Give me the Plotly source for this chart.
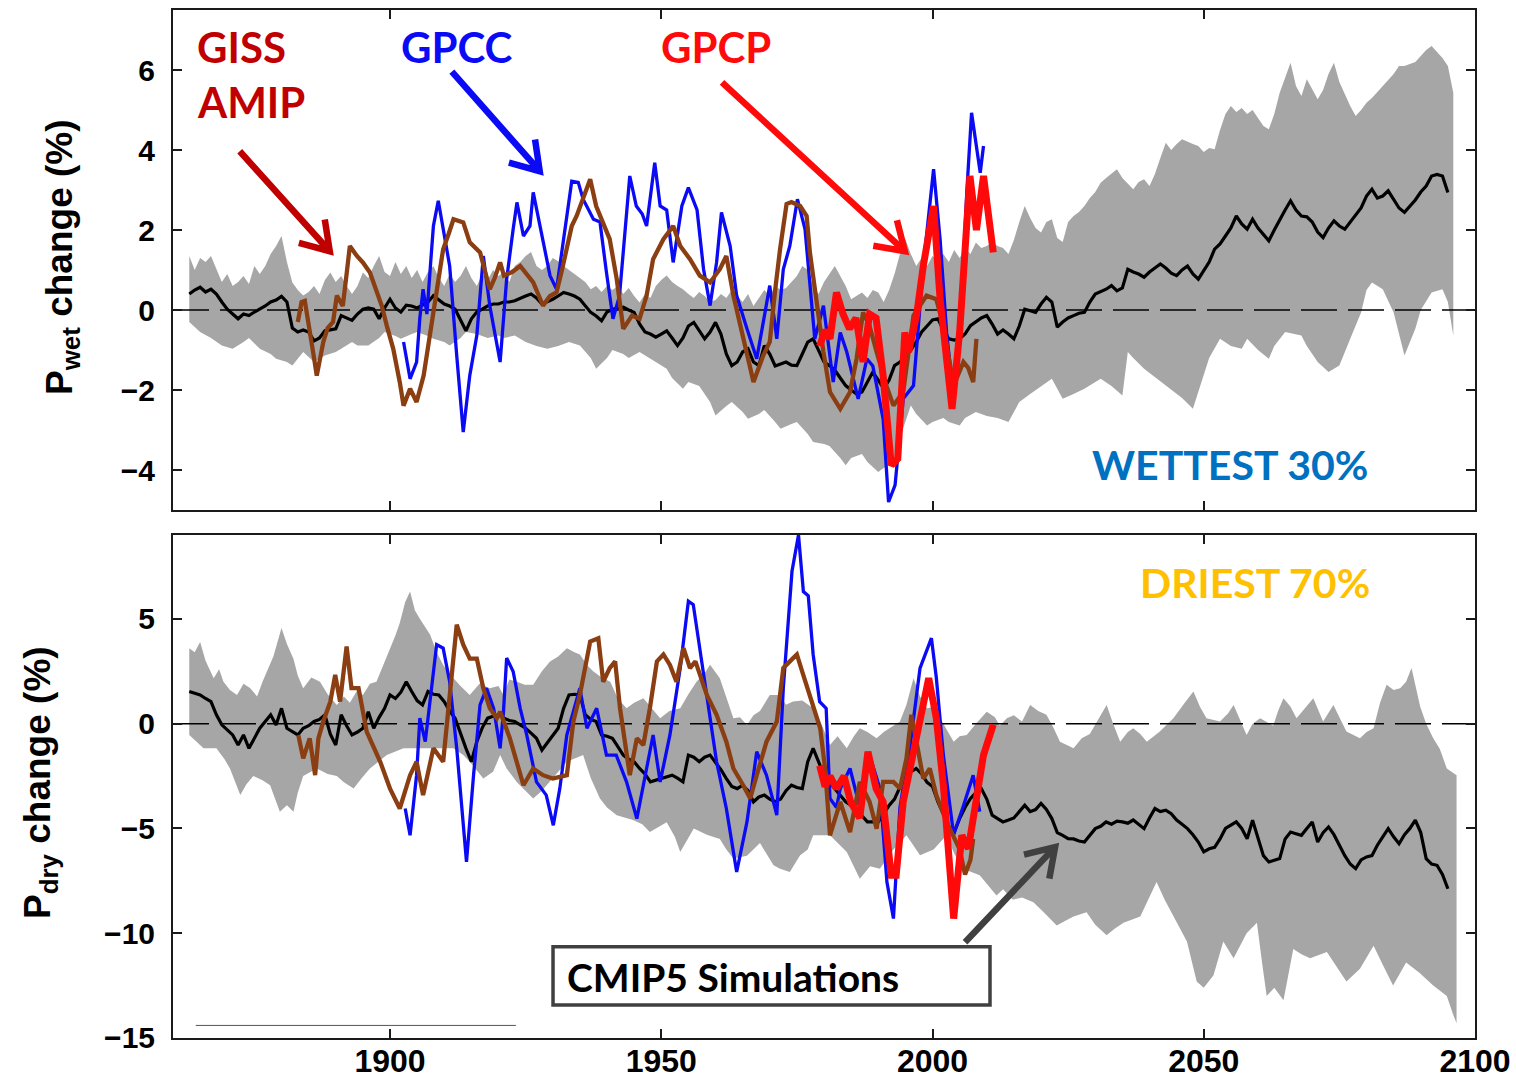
import math
import numpy as np
import plotly.graph_objects as go

# ---------------------------------------------------------------- axes
X_RANGE = [1860, 2100]
X_TICKS = [1900, 1950, 2000, 2050, 2100]
WET_RANGE = [-5, 7.5]
WET_TICKS = [-4, -2, 0, 2, 4, 6]
DRY_RANGE = [-15, 9]
DRY_TICKS = [-15, -10, -5, 0, 5]

# ---------------------------------------------------------------- CMIP5 ensemble, wettest 30% (annual from 1863)
CMIP_START = 1863
WET_MEAN = (
    [0.40, 0.50, 0.57, 0.45, 0.52, 0.40, 0.20]
    + [0.02, -0.10, -0.22, -0.10, -0.14, -0.05, 0.02, 0.10, 0.20, 0.25]
    + [0.34, 0.20, -0.45, -0.55, -0.50, -0.55, -0.77, -0.70, -0.52, -0.50]
    + [-0.47, -0.14, -0.20, -0.26, -0.10, 0.02, 0.05, 0.02, -0.22, 0.05]
    + [0.27, 0.05, -0.05, 0.12, 0.10, 0.05, 0.12, 0.20, 0.36, 0.25]
    + [0.15, 0.10, 0.02, -0.25, -0.52, -0.22, -0.05, 0.02, 0.10, 0.15]
    + [0.15, 0.20, 0.20, 0.23, 0.30, 0.35, 0.40, 0.30, 0.15, 0.20]
    + [0.27, 0.35, 0.44, 0.40, 0.35, 0.27, 0.10, -0.06, -0.15, -0.27]
    + [-0.05, 0.02, 0.05, 0.07, 0.00, -0.06, -0.35, -0.55, -0.60, -0.68]
    + [-0.60, -0.52, -0.70, -0.89, -0.70, -0.40, -0.31, -0.50, -0.72, -0.55]
    + [-0.31, -0.60, -1.10, -1.39, -1.30, -1.05, -0.97, -1.30, -1.39, -0.89]
    + [-1.10, -1.40, -1.35, -1.30, -1.38, -1.39, -1.10, -0.80, -0.72, -1.00]
    + [-1.30, -1.39, -1.50, -1.70, -1.89, -2.00, -2.10, -2.05, -1.80, -1.55]
    + [-1.75, -1.97, -1.75, -1.39, -1.30, -1.15, -1.00, -0.80, -0.55, -0.40]
    + [-0.25, -0.22, -0.50, -0.72, -0.75, -0.72, -0.60, -0.39, -0.30, -0.20]
    + [-0.14, -0.35, -0.60, -0.50, -0.60, -0.72, -0.40, 0.02, -0.02, -0.06]
    + [0.15, 0.32, 0.20, -0.43, -0.30, -0.20, -0.14, -0.08, -0.06, 0.20]
    + [0.40, 0.45, 0.52, 0.61, 0.48, 0.55, 1.02, 0.95, 0.90, 0.82]
    + [0.95, 1.05, 1.15, 1.05, 0.92, 0.86, 1.00, 1.10, 0.90, 0.77]
    + [1.00, 1.20, 1.52, 1.65, 1.85, 2.05, 2.35, 2.15, 2.02, 2.27]
    + [2.05, 1.90, 1.73, 2.00, 2.27, 2.50, 2.73, 2.50, 2.35, 2.33]
    + [2.20, 1.95, 1.81, 2.05, 2.23, 2.10, 2.02, 2.20, 2.35, 2.55]
    + [2.85, 3.02, 2.80, 2.85, 2.98, 2.75, 2.55, 2.44, 2.60, 2.75]
    + [2.95, 3.10, 3.35, 3.39, 3.35, 2.94]
)
WET_UPPER = (
    [1.35, 1.00, 1.30, 1.20, 1.35, 1.00, 0.70]
    + [0.90, 0.60, 0.70, 0.85, 0.65, 1.10, 0.90, 1.10, 1.40, 1.60]
    + [1.85, 1.20, 0.69, 0.50, 0.36, 0.45, 0.60, 0.40, 0.75, 0.94]
    + [0.70, 0.85, 0.60, 0.40, 0.60, 0.94, 0.80, 1.10, 1.35, 0.95]
    + [0.85, 1.20, 0.90, 1.10, 0.80, 1.00, 0.70, 0.95, 1.10, 0.80]
    + [0.60, 0.90, 0.70, 0.85, 1.10, 0.80, 0.60, 0.90, 0.75, 1.00]
    + [0.85, 0.95, 0.70, 1.10, 1.20, 1.35, 1.45, 1.10, 1.00, 1.10]
    + [1.30, 1.22, 1.10, 1.00, 0.92, 0.80, 0.70, 0.52, 0.60, 0.45]
    + [0.60, 0.50, 0.60, 0.40, 0.55, 0.35, 0.19, 0.40, 0.30, 0.60]
    + [0.75, 0.86, 0.70, 0.60, 0.52, 0.40, 0.30, 0.45, 0.35, 0.20]
    + [0.25, 0.40, 0.30, 0.50, 0.35, 0.20, 0.40, 0.10, 0.30, 0.50]
    + [0.35, 0.60, 0.50, 0.55, 0.70, 0.85, 1.10, 1.00, 0.60, 0.40]
    + [0.70, 0.90, 1.10, 0.85, 0.60, 0.27, 0.35, 0.44, 0.30, 0.50]
    + [0.44, 0.20, 0.50, 0.90, 1.40, 1.77, 1.40, 1.10, 1.30, 1.10]
    + [1.35, 1.25, 1.40, 1.20, 1.50, 1.30, 1.55, 1.40, 1.69, 1.55]
    + [1.60, 1.69, 1.60, 1.55, 1.40, 1.75, 2.20, 2.60, 2.30, 2.05]
    + [1.94, 2.20, 2.27, 1.80, 1.70, 2.20, 2.35, 2.45, 2.60, 2.80]
    + [2.95, 3.18, 3.30, 3.40, 3.52, 3.30, 3.15, 3.02, 3.20, 3.27]
    + [3.10, 3.40, 3.80, 4.18, 4.00, 4.15, 4.27, 4.20, 4.15, 4.10]
    + [3.95, 4.05, 4.02, 4.50, 4.90, 5.10, 4.95, 5.05, 4.90, 5.00]
    + [4.80, 4.60, 4.52, 4.90, 5.43, 5.80, 6.18, 5.60, 5.35, 5.77]
    + [5.50, 5.27, 5.50, 5.90, 6.18, 5.70, 5.40, 5.10, 4.85, 5.00]
    + [5.18, 5.30, 5.45, 5.60, 5.75, 5.90, 6.10, 6.10, 6.15, 6.20]
    + [6.35, 6.50, 6.60, 6.45, 6.30, 6.10, 5.43]
)
WET_LOWER = [
    (1863, -0.30), (1865, -0.55), (1867, -0.70), (1869, -0.89), (1871, -0.97),
    (1873, -0.80), (1874, -0.70), (1876, -0.97), (1878, -1.10), (1879, -1.22),
    (1881, -1.30), (1882, -1.39), (1884, -1.05), (1886, -1.30), (1888, -1.14),
    (1890, -1.05), (1891, -0.97), (1893, -0.80), (1894, -0.89), (1896, -0.89),
    (1898, -0.70), (1899, -0.55), (1901, -0.65), (1902, -0.72), (1904, -0.60),
    (1905, -0.55), (1907, -0.65), (1908, -0.72), (1910, -0.80), (1911, -0.89),
    (1913, -0.70), (1914, -0.55), (1916, -0.60), (1918, -0.70), (1920, -0.64),
    (1921, -0.70), (1923, -0.64), (1925, -0.80), (1927, -0.90), (1929, -0.97),
    (1931, -0.90), (1933, -0.80), (1935, -0.89), (1937, -1.20), (1938, -1.47),
    (1940, -1.20), (1941, -1.00), (1943, -1.10), (1944, -1.20), (1946, -1.05),
    (1947, -1.14), (1949, -1.30), (1951, -1.47), (1952, -1.70), (1954, -1.97),
    (1955, -1.80), (1957, -1.90), (1959, -2.30), (1960, -2.64), (1962, -2.40),
    (1963, -2.30), (1965, -2.55), (1966, -2.72), (1968, -2.60), (1969, -2.50),
    (1971, -2.80), (1972, -2.97), (1974, -2.85), (1975, -2.80), (1977, -3.10),
    (1978, -3.30), (1980, -3.35), (1981, -3.40), (1983, -3.70), (1984, -3.88),
    (1985, -3.70), (1987, -3.60), (1988, -3.80), (1990, -4.05), (1991, -3.95),
    (1993, -3.80), (1994, -3.20), (1996, -2.39), (1997, -2.60), (1999, -2.89),
    (2000, -2.80), (2002, -2.70), (2003, -2.80), (2005, -2.89), (2006, -2.70),
    (2008, -2.55), (2010, -2.65), (2012, -2.70), (2014, -2.80), (2016, -2.30),
    (2018, -2.10), (2020, -1.90), (2022, -1.72), (2024, -2.22), (2026, -2.10),
    (2028, -1.97), (2031, -1.72), (2033, -1.90), (2035, -2.14), (2036, -1.05),
    (2037, -1.20), (2039, -1.47), (2041, -1.70), (2043, -1.89), (2046, -2.20),
    (2048, -2.47), (2050, -1.64), (2051, -1.20), (2053, -0.72), (2055, -0.90),
    (2057, -0.97), (2058, -0.72), (2060, -1.00), (2062, -1.22), (2063, -0.90),
    (2065, -0.55), (2068, -0.64), (2069, -0.90), (2071, -1.30), (2073, -1.55),
    (2075, -1.39), (2077, -0.72), (2079, -0.06), (2080, 0.50), (2081, 0.69),
    (2083, 0.52), (2085, -0.06), (2086, -0.60), (2087, -1.14), (2089, -0.47),
    (2090, 0.00), (2092, 0.44), (2094, 0.52), (2095, 0.20), (2096, -0.64),
]

# ---------------------------------------------------------------- observations, wettest 30%
WET_GISS = [
    (1883.0, -0.30), (1883.7, 0.20), (1884.3, 0.23), (1885.0, -0.30), (1886.0, -1.20),
    (1886.5, -1.64), (1887.2, -1.10), (1887.7, -0.80), (1888.5, -0.45), (1889.5, -0.30),
    (1890.2, 0.36), (1891.3, 0.10), (1892.0, 0.90), (1892.6, 1.60), (1893.9, 1.35),
    (1895.0, 1.19), (1896.3, 0.94), (1897.5, 0.52), (1898.5, 0.10), (1899.4, -0.39),
    (1900.6, -0.97), (1901.8, -1.80), (1902.5, -2.39), (1903.7, -1.97), (1904.9, -2.30),
    (1906.2, -1.64), (1907.4, -0.64), (1908.6, 0.52), (1909.8, 1.52), (1910.8, 1.90),
    (1911.7, 2.27), (1913.5, 2.19), (1914.7, 1.69), (1916.6, 1.44), (1917.5, 1.00),
    (1918.4, 0.52), (1919.3, 0.80), (1920.3, 1.19), (1921.0, 0.86), (1922.5, 0.95),
    (1924.0, 1.10), (1925.2, 0.90), (1926.4, 0.69), (1927.3, 0.40), (1928.2, 0.11),
    (1929.5, 0.35), (1930.7, 0.44), (1931.7, 1.00), (1932.6, 1.60), (1933.5, 2.10),
    (1934.4, 2.35), (1935.7, 2.80), (1936.9, 3.27), (1938.0, 2.60), (1939.3, 2.19),
    (1940.5, 1.77), (1941.8, 0.77), (1943.0, -0.47), (1944.6, -0.14), (1946.0, -0.22),
    (1947.3, 0.36), (1948.5, 1.27), (1950.4, 1.77), (1952.2, 2.10), (1953.5, 1.60),
    (1955.3, 1.27), (1957.1, 0.86), (1959.0, 0.69), (1960.8, 1.02), (1962.0, 1.35),
    (1963.3, 0.36), (1965.1, -0.64), (1967.0, -1.80), (1968.8, -1.14), (1970.0, -0.80),
    (1971.0, 0.50), (1971.9, 1.52), (1973.1, 2.65), (1974.0, 2.70), (1975.6, 2.60),
    (1976.8, 2.35), (1977.4, 1.44), (1978.7, 0.11), (1979.9, -1.05), (1981.1, -2.05),
    (1983.0, -2.47), (1984.8, -2.05), (1986.0, -1.22), (1987.2, -0.06), (1988.4, -0.40),
    (1989.7, -1.05), (1991.5, -1.89), (1992.8, -2.39), (1994.6, -2.05), (1996.5, -0.14),
    (1998.9, 0.36), (2000.7, 0.27), (2002.0, -0.39), (2003.9, -1.89), (2005.7, -1.30),
    (2006.6, -1.45), (2007.5, -1.80), (2008.1, -0.72),
]
WET_GPCC = [
    (1902.5, -0.80), (1903.7, -1.72), (1904.9, -1.30), (1905.5, -0.20), (1906.1, 0.52),
    (1906.8, -0.10), (1907.5, 1.20), (1908.0, 2.10), (1908.9, 2.73), (1909.8, 2.02),
    (1911.0, 1.10), (1912.3, -1.14), (1913.5, -3.05), (1914.7, -1.64), (1916.0, -0.64),
    (1917.2, 1.35), (1918.4, 0.10), (1920.3, -1.30), (1921.5, 0.77), (1922.7, 2.02),
    (1923.4, 2.69), (1924.6, 1.85), (1925.8, 2.10), (1926.4, 2.94), (1927.6, 2.10),
    (1928.2, 1.77), (1929.5, 0.86), (1930.7, 0.52), (1932.6, 2.35), (1933.5, 3.22),
    (1934.7, 3.19), (1935.6, 2.77), (1937.5, 2.27), (1938.7, 2.20), (1939.9, 0.94),
    (1941.1, -0.22), (1942.3, 0.35), (1943.6, 2.27), (1944.2, 3.35), (1945.4, 2.60),
    (1946.5, 2.40), (1947.3, 2.10), (1948.8, 3.68), (1949.8, 2.60), (1951.0, 2.50),
    (1952.2, 1.19), (1953.8, 2.60), (1955.0, 3.06), (1956.6, 2.50), (1957.8, 1.02),
    (1959.0, 0.11), (1960.2, 1.19), (1961.1, 2.44), (1962.7, 1.60), (1963.9, 0.36),
    (1965.8, -0.47), (1967.6, -1.22), (1968.8, -0.31), (1970.0, 0.61), (1971.3, -0.72),
    (1972.5, 1.02), (1973.7, 1.60), (1975.1, 2.77), (1976.5, 2.02), (1977.4, 0.60),
    (1978.3, -0.72), (1979.9, 0.11), (1981.7, -1.80), (1983.0, -0.56), (1984.2, -1.05),
    (1986.3, -2.22), (1987.9, -1.22), (1989.0, -1.40), (1990.9, -2.72), (1991.9, -4.80),
    (1993.1, -4.38), (1994.6, -2.22), (1996.5, -1.89), (1998.3, 1.10), (2000.2, 3.52),
    (2001.4, 1.77), (2002.6, -0.56), (2003.9, -2.22), (2005.4, 0.27), (2006.3, 2.90),
    (2007.2, 4.93), (2008.8, 3.43), (2009.4, 4.10),
]
WET_GPCP = [
    (1979.2, -0.90), (1980.2, -0.50), (1981.1, -0.72), (1982.3, 0.44), (1983.5, -0.10),
    (1984.7, -0.47), (1985.9, -0.20), (1987.2, -1.30), (1988.4, -0.10), (1989.6, -0.20),
    (1990.9, -1.64), (1992.4, -3.88), (1993.6, -3.72), (1994.9, -0.56), (1995.6, -1.05),
    (1997.1, -0.10), (1998.3, 1.10), (2000.2, 2.60), (2001.4, 0.27), (2002.6, -1.20),
    (2003.6, -2.47), (2005.0, -0.56), (2006.9, 3.35), (2008.1, 2.00), (2009.4, 3.35),
    (2011.2, 1.44),
]

# ---------------------------------------------------------------- CMIP5 ensemble, driest 70% (annual from 1863)
DRY_MEAN = (
    [1.53, 1.45, 1.37, 1.20, 1.05, 0.42, -0.06]
    + [-0.30, -0.54, -1.02, -0.54, -1.18, -0.70, -0.22, 0.10, 0.42, -0.06]
    + [0.73, -0.22, -0.40, -0.54, -0.22, -0.10, 0.10, 0.20, 0.42, -0.50]
    + [-1.02, 0.42, -0.10, -0.54, -0.40, -0.22, 0.57, -0.22, 0.30, 0.73]
    + [1.37, 1.20, 1.50, 2.00, 1.53, 1.10, 0.89, 1.53, 1.40, 1.37]
    + [1.05, 0.60, 0.26, -0.50, -1.18, -1.82, -0.86, -0.20, 0.26, 0.35]
    + [0.42, 0.26, 0.15, 0.10, -0.05, -0.22, -0.45, -0.70, -1.26, -0.90]
    + [-0.60, -0.22, 0.73, 1.37, 1.40, 1.37, 0.42, 0.20, 0.10, -0.54]
    + [-0.60, -0.70, -1.10, -1.50, -1.70, -1.82, -2.14, -2.40, -2.78, -2.70]
    + [-2.62, -2.55, -2.46, -2.60, -2.78, -1.50, -1.60, -1.82, -1.60, -1.50]
    + [-1.82, -2.20, -2.62, -3.00, -3.10, -2.94, -3.20, -3.73, -3.50, -3.41]
    + [-3.60, -3.73, -3.60, -3.20, -2.94, -3.05, -3.10, -1.82, -1.18, -1.80]
    + [-2.46, -2.80, -3.10, -3.40, -3.73, -3.90, -4.05, -4.40, -4.69, -4.69]
    + [-4.69, -4.30, -3.90, -3.60, -3.00, -2.46, -2.30, -2.14, -2.40, -2.80]
    + [-3.00, -3.73, -4.30, -5.00, -5.17, -4.53, -4.00, -3.57, -3.30, -3.10]
    + [-3.60, -4.37, -4.53, -4.69, -4.60, -4.50, -4.20, -3.89, -4.20, -4.10]
    + [-3.81, -4.10, -4.53, -5.20, -5.33, -5.49, -5.50, -5.60, -5.65, -5.30]
    + [-5.01, -4.90, -4.69, -4.80, -4.65, -4.69, -4.75, -4.60, -4.80, -5.01]
    + [-4.50, -4.05, -4.20, -4.13, -4.30, -4.60, -4.80, -5.01, -5.30, -5.65]
    + [-6.12, -5.97, -5.90, -5.50, -5.00, -4.85, -4.69, -5.00, -5.49, -4.61]
    + [-5.50, -6.30, -6.60, -6.50, -6.44, -5.50, -5.17, -5.25, -5.33, -5.00]
    + [-4.69, -5.65, -5.20, -4.93, -5.30, -5.80, -6.30, -6.70, -6.92, -6.50]
    + [-6.36, -6.30, -5.80, -5.40, -5.01, -5.40, -5.73, -5.30, -5.00, -4.61]
    + [-5.20, -6.44, -6.70, -6.76, -7.20, -7.88]
)
DRY_UPPER = [
    (1863, 3.60), (1864, 3.40), (1865, 3.90), (1866, 3.00), (1867.5, 2.17),
    (1868.5, 2.60), (1869.3, 2.00), (1870.5, 1.60), (1871.8, 1.37), (1873, 1.90),
    (1874.2, 1.70), (1875.5, 1.30), (1876.5, 2.00), (1877.3, 2.49), (1878.5, 3.20),
    (1880, 4.56), (1881, 3.80), (1882.2, 3.10), (1883, 2.30), (1884, 1.69),
    (1885.5, 2.20), (1887.1, 2.00), (1888.5, 1.40), (1890.2, 0.89), (1891.5, 1.30),
    (1892.6, 1.00), (1894, 1.60), (1895, 1.37), (1896.3, 1.90), (1897.5, 2.00),
    (1898.8, 2.80), (1900, 3.60), (1901, 4.20), (1901.8, 4.80), (1902.8, 5.80),
    (1903.7, 6.30), (1904.6, 5.40), (1905.5, 5.00), (1906.5, 4.60), (1907.4, 4.24),
    (1908.6, 3.40), (1909.8, 2.80), (1911.7, 2.17), (1913, 1.80), (1914.7, 1.37),
    (1916.5, 1.90), (1918.4, 1.69), (1920, 1.80), (1920.9, 1.37), (1922, 2.10),
    (1923.4, 2.00), (1924.8, 1.85), (1926.4, 1.85), (1928, 2.50), (1929.5, 2.97),
    (1931, 3.20), (1932.6, 3.60), (1934, 3.40), (1935, 3.30), (1936.3, 2.80),
    (1937.5, 2.49), (1939, 2.20), (1940.6, 2.00), (1942, 1.20), (1943.6, 0.73),
    (1945, 1.00), (1946.7, 1.21), (1948.3, 0.70), (1949.8, 0.26), (1951.5, 0.60),
    (1953.5, 0.73), (1955, 1.40), (1956.5, 2.00), (1958, 2.40), (1959, 2.81),
    (1960.8, 2.17), (1962, 1.20), (1963.3, 0.26), (1964.5, 0.30), (1965.8, -0.06),
    (1967, 0.40), (1968.2, 0.60), (1970, 1.37), (1971.9, 1.37), (1973, 0.90),
    (1974.3, 1.05), (1976, 1.10), (1978, 0.73), (1979.5, 0.00), (1981.1, -1.02),
    (1982.5, -0.60), (1984.2, -1.18), (1985.5, -0.60), (1986.6, -0.22), (1988, -0.40),
    (1989.7, -0.70), (1991, -0.40), (1992.2, -0.20), (1994, 0.10), (1995.2, 0.90),
    (1996.5, 2.17), (1997.7, 1.30), (1999, 0.73), (2000.2, 0.80), (2001.4, 0.26),
    (2002.6, -0.30), (2003.9, -0.86), (2005, -0.60), (2006.3, -0.54), (2008, 0.00),
    (2010, 0.57), (2011.5, 0.30), (2012.4, -0.10), (2013.7, 0.26), (2015, 0.40),
    (2016.5, 0.10), (2018, 0.89), (2019.5, 0.60), (2021, 0.42), (2022.3, -0.20),
    (2023.5, -0.86), (2026, -1.18), (2027.5, -0.70), (2029, -0.50), (2030.5, 0.20),
    (2032.1, 0.89), (2033.3, 0.00), (2034.6, -0.86), (2036, -0.40), (2037, -0.22),
    (2038.3, -0.50), (2039.5, -0.86), (2041.9, -0.38), (2043, -0.10), (2044.4, 0.26),
    (2046.5, 1.00), (2048.1, 1.53), (2049.3, 0.80), (2050.5, 0.26), (2053, 0.10),
    (2054.5, 0.50), (2055.5, 0.89), (2056.7, 0.20), (2057.9, -0.54), (2059, 0.00),
    (2060.4, 0.26), (2062.8, -0.10), (2063.7, 0.60), (2064.7, 1.21), (2066, 0.80),
    (2067.1, 0.26), (2068.5, 0.70), (2070.2, 1.21), (2072, 0.10), (2073.9, 0.89),
    (2075, 0.30), (2076.3, -0.38), (2078.8, -0.70), (2080, -0.40), (2081.3, -0.22),
    (2082.5, 1.00), (2083.7, 1.85), (2085, 1.60), (2086.2, 1.69), (2087.3, 2.00),
    (2088.3, 2.65), (2089, 1.90), (2089.9, 0.80), (2091, 0.00), (2092.3, -0.70),
    (2093.5, -1.20), (2094.8, -2.14), (2096.6, -2.46),
]
DRY_LOWER = [
    (1863, -0.54), (1864.5, -0.90), (1865.6, -1.18), (1868, -1.18), (1869.5, -1.70),
    (1870.5, -2.14), (1872.4, -3.41), (1873.5, -2.90), (1874.8, -2.50), (1876.5, -2.70),
    (1877.9, -2.94), (1879.7, -4.21), (1881, -3.90), (1882.2, -4.21), (1883, -3.30),
    (1884, -2.50), (1886.5, -2.14), (1888.5, -2.40), (1890.2, -2.50), (1891.5, -2.80),
    (1893.3, -3.10), (1894.8, -2.60), (1896.3, -2.14), (1898, -1.80), (1899.4, -1.50),
    (1902.5, -1.18), (1905.5, -1.18), (1908.6, -1.18), (1911.7, -1.18), (1913.5, -1.50),
    (1914.7, -1.82), (1917.2, -2.62), (1919, -2.30), (1920.3, -1.50), (1921.5, -2.14),
    (1923.4, -2.80), (1926.4, -3.57), (1928, -3.20), (1929.5, -2.80), (1931, -2.30),
    (1932.6, -1.82), (1935.6, -1.50), (1937, -2.60), (1938.7, -3.57), (1940, -4.00),
    (1941.8, -4.37), (1944.8, -4.60), (1946.5, -4.80), (1947.9, -5.17), (1951, -4.70),
    (1952.5, -5.40), (1953.5, -6.12), (1956, -5.00), (1958.4, -5.30), (1960.8, -5.50),
    (1962, -6.00), (1963.3, -6.44), (1965.8, -6.30), (1968.2, -5.70), (1970.7, -6.76),
    (1971.9, -6.92), (1973.7, -7.08), (1975.6, -6.28), (1977, -6.00), (1978, -5.33),
    (1981.1, -5.33), (1984.2, -6.12), (1986.6, -7.40), (1988.5, -6.80), (1990.3, -6.92),
    (1992.8, -6.00), (1995.2, -5.33), (1997.7, -6.28), (2000.2, -6.00), (2002.6, -5.33),
    (2004, -6.20), (2005.6, -6.92), (2008.7, -7.24), (2010.5, -7.80), (2011.8, -8.20),
    (2013, -7.90), (2014.8, -8.40), (2016.5, -8.30), (2018.6, -8.52), (2020.5, -9.00),
    (2022.9, -9.63), (2024.5, -9.40), (2026, -9.20), (2028.4, -9.00), (2030, -9.60),
    (2032.1, -10.10), (2033.5, -9.80), (2035.2, -9.50), (2038.3, -9.20), (2039.5, -8.50),
    (2041.3, -7.56), (2042.8, -8.40), (2044.4, -9.20), (2046.9, -10.40), (2048.7, -12.30),
    (2050, -12.60), (2051.8, -12.00), (2053.6, -10.40), (2055.5, -11.20), (2057.9, -10.00),
    (2059.8, -9.50), (2060.8, -11.50), (2061.6, -13.00), (2063, -12.60), (2064.7, -13.20),
    (2066.5, -10.75), (2068, -11.00), (2069.6, -11.20), (2072.7, -10.90), (2074.5, -11.60),
    (2076.3, -12.30), (2078.8, -11.70), (2081.3, -10.60), (2083, -11.50), (2084.9, -12.50),
    (2087.3, -11.40), (2089.8, -11.90), (2092.3, -12.50), (2094.8, -13.00), (2096, -13.90),
    (2096.6, -14.30),
]

# ---------------------------------------------------------------- observations, driest 70%
DRY_GISS = [
    (1883.1, -0.54), (1884.0, -1.66), (1885.2, -0.70), (1886.2, -2.46), (1886.8, -0.70),
    (1887.7, 0.10), (1889.0, 1.05), (1889.9, 2.33), (1890.8, 1.05), (1892.0, 3.68),
    (1892.9, 1.69), (1894.2, 1.69), (1895.7, -0.38), (1896.9, -1.02), (1898.2, -1.82),
    (1900.0, -3.10), (1901.8, -4.05), (1903.7, -2.46), (1904.9, -1.82), (1906.1, -3.41),
    (1908.0, -1.18), (1909.8, -1.82), (1911.0, 1.37), (1912.3, 4.72), (1913.5, 3.77),
    (1914.7, 3.10), (1916.0, 3.10), (1917.2, 1.69), (1918.4, 0.73), (1919.7, 0.26),
    (1920.3, 0.57), (1922.1, -0.70), (1924.6, -2.94), (1926.4, -2.14), (1928.2, -2.46),
    (1930.0, -2.62), (1932.6, -2.46), (1933.8, 0.10), (1935.0, 1.37), (1936.9, 3.92),
    (1938.4, 4.07), (1939.3, 2.00), (1940.5, 2.65), (1941.5, 2.97), (1942.4, 0.73),
    (1944.2, -2.46), (1945.5, -0.70), (1946.7, -1.02), (1947.9, 0.73), (1949.2, 2.97),
    (1950.4, 3.30), (1951.6, 2.80), (1952.8, 2.00), (1954.1, 3.60), (1955.3, 2.65),
    (1956.3, 2.97), (1958.4, 1.37), (1960.2, 0.42), (1962.0, -0.86), (1963.3, -2.14),
    (1965.1, -2.94), (1966.4, -3.57), (1967.6, -2.46), (1969.4, -0.86), (1971.3, 0.10),
    (1972.5, 2.65), (1973.7, 2.97), (1975.0, 3.30), (1976.2, 2.30), (1977.7, 1.05),
    (1979.3, -0.22), (1980.2, -2.14), (1981.1, -5.33), (1983.0, -3.73), (1984.8, -5.17),
    (1986.6, -2.78), (1988.4, -3.73), (1989.7, -5.01), (1990.9, -2.78), (1992.8, -2.78),
    (1994.0, -3.10), (1995.2, -1.66), (1996.1, 0.42), (1997.0, -0.80), (1998.3, -2.62),
    (1999.5, -2.14), (2000.7, -3.41), (2002.6, -4.69), (2004.0, -5.50), (2005.0, -6.00),
    (2006.0, -7.20), (2007.0, -6.50), (2007.5, -5.50),
]
DRY_GPCC = [
    (1902.8, -4.05), (1903.7, -5.33), (1904.9, -2.46), (1905.5, 0.26), (1906.5, -0.86),
    (1907.4, 1.05), (1908.6, 3.77), (1909.8, 3.60), (1911.0, 2.00), (1912.3, -1.18),
    (1913.5, -4.85), (1914.1, -6.60), (1915.4, -2.46), (1916.6, 0.89), (1917.8, 1.69),
    (1919.1, 0.73), (1920.3, -1.18), (1920.9, 0.50), (1921.5, 3.13), (1922.7, 2.49),
    (1924.0, 0.73), (1925.2, -0.54), (1927.0, -2.78), (1928.8, -3.41), (1930.1, -4.85),
    (1931.3, -3.10), (1932.6, -0.54), (1935.0, 1.69), (1936.3, -0.22), (1938.1, 0.73),
    (1939.9, -1.50), (1941.7, -1.50), (1943.6, -2.78), (1945.5, -4.53), (1947.3, -2.14),
    (1948.5, -0.54), (1949.8, -2.78), (1951.6, -0.54), (1953.5, 2.65), (1955.0, 5.84),
    (1955.9, 5.68), (1957.1, 3.60), (1958.7, 0.73), (1960.2, -1.82), (1962.0, -4.05),
    (1963.9, -7.08), (1965.8, -4.69), (1967.6, -1.34), (1969.4, -2.46), (1971.3, -4.37),
    (1972.5, 1.69), (1974.1, 7.27), (1975.3, 9.00), (1976.2, 6.30), (1977.1, 6.10),
    (1978.0, 3.30), (1979.2, 1.05), (1980.4, 0.73), (1981.1, -3.57), (1982.3, -4.00),
    (1983.0, -3.10), (1984.8, -2.14), (1986.6, -4.00), (1988.4, -1.50), (1990.3, -3.10),
    (1991.6, -7.56), (1992.8, -9.30), (1994.0, -4.00), (1995.9, -1.00), (1997.7, 2.65),
    (1999.8, 4.08), (2000.7, 2.20), (2002.0, -1.50), (2003.9, -5.30), (2005.6, -4.00),
    (2007.5, -2.46), (2008.7, -4.20),
]
DRY_GPCP = [
    (1979.2, -2.00), (1980.2, -3.00), (1981.1, -2.50), (1982.3, -3.10), (1983.7, -2.50),
    (1984.9, -3.73), (1986.6, -4.50), (1988.1, -1.34), (1989.6, -3.10), (1990.9, -3.73),
    (1992.4, -7.24), (1993.3, -7.24), (1994.6, -3.73), (1995.9, -2.14), (1997.7, 0.26),
    (1999.3, 2.17), (2000.7, 0.26), (2002.0, -2.94), (2003.9, -9.30), (2005.4, -5.33),
    (2006.6, -5.97), (2008.1, -3.73), (2009.4, -1.50), (2011.2, -0.05),
]

# ---------------------------------------------------------------- page geometry & styling
FIG_W, FIG_H = 1516, 1081
MARGIN = dict(l=173, r=41, t=10, b=43)
WET_DOMAIN = [0.5136, 1]
DRY_DOMAIN = [0, 0.4893]

BAND_COLOR = "#A6A6A6"
MEAN_COLOR = "#000000"
GPCC_COLOR = "#0A0AF5"
GISS_COLOR = "#8B3E12"
GPCP_COLOR = "#FF0A0A"
TICK_FONT = dict(family="Liberation Sans, Arial, sans-serif", size=30, color="black", weight="bold")
LABEL_FONT = "Lato, Open Sans, sans-serif"

PLOT_W = FIG_W - MARGIN["l"] - MARGIN["r"]
PLOT_H = FIG_H - MARGIN["t"] - MARGIN["b"]


def unzip(pairs):
    xs, ys = zip(*pairs)
    return list(xs), list(ys)


def annual_years(values):
    return list(np.arange(CMIP_START, CMIP_START + len(values)))


def band_polygon(up_x, up_y, lo_x, lo_y):
    return list(up_x) + list(lo_x)[::-1], list(up_y) + list(lo_y)[::-1]


def panel_traces(mean, up_x, up_y, lo_x, lo_y, giss, gpcc, gpcp, xa, ya):
    px, py = band_polygon(up_x, up_y, lo_x, lo_y)
    out = [
        go.Scatter(x=px, y=py, mode="lines", fill="toself", fillcolor=BAND_COLOR,
                   line=dict(width=0, color=BAND_COLOR), xaxis=xa, yaxis=ya),
        go.Scatter(x=X_RANGE, y=[0, 0], mode="lines",
                   line=dict(color="black", width=1.5, dash="36px,11px"), xaxis=xa, yaxis=ya),
        go.Scatter(x=annual_years(mean), y=mean, mode="lines",
                   line=dict(color=MEAN_COLOR, width=3.2), xaxis=xa, yaxis=ya),
    ]
    for series, color, width in ((gpcc, GPCC_COLOR, 3.3), (giss, GISS_COLOR, 4.3), (gpcp, GPCP_COLOR, 7)):
        sx, sy = unzip(series)
        out.append(go.Scatter(x=sx, y=sy, mode="lines", line=dict(color=color, width=width),
                              xaxis=xa, yaxis=ya))
    return out


wet_lo_x, wet_lo_y = unzip(WET_LOWER)
dry_up_x, dry_up_y = unzip(DRY_UPPER)
dry_lo_x, dry_lo_y = unzip(DRY_LOWER)

traces = panel_traces(WET_MEAN, annual_years(WET_UPPER), WET_UPPER, wet_lo_x, wet_lo_y,
                      WET_GISS, WET_GPCC, WET_GPCP, "x", "y")
traces += panel_traces(DRY_MEAN, dry_up_x, dry_up_y, dry_lo_x, dry_lo_y,
                       DRY_GISS, DRY_GPCC, DRY_GPCP, "x2", "y2")

fig = go.Figure(traces)

frame = dict(showline=True, linecolor="#1a1a1a", linewidth=2, mirror="allticks",
             ticks="inside", ticklen=9, tickwidth=1.5, tickcolor="#1a1a1a",
             showgrid=False, zeroline=False, automargin=False)

fig.update_layout(
    width=FIG_W, height=FIG_H,
    margin=MARGIN,
    paper_bgcolor="white", plot_bgcolor="white",
    showlegend=False,
    xaxis=dict(domain=[0, 1], anchor="y", range=X_RANGE, tickvals=X_TICKS,
               showticklabels=False, **frame),
    xaxis2=dict(domain=[0, 1], anchor="y2", range=X_RANGE, tickvals=X_TICKS,
                tickfont=dict(TICK_FONT, size=32), ticklabelstandoff=-6, **frame),
    yaxis=dict(domain=WET_DOMAIN, anchor="x", range=WET_RANGE, tickvals=WET_TICKS,
               tickfont=TICK_FONT, ticklabelstandoff=10, **frame),
    yaxis2=dict(domain=DRY_DOMAIN, anchor="x2", range=DRY_RANGE, tickvals=DRY_TICKS,
                tickfont=TICK_FONT, ticklabelstandoff=10, **frame),
)

# axis titles
title_font = dict(family="Liberation Sans, Arial, sans-serif", size=37, color="black", weight="bold")
fig.add_annotation(text="P<sub>wet</sub> change (%)", xref="paper", yref="paper",
                   x=-0.0853, y=0.7597, xanchor="center", yanchor="middle",
                   textangle=-90, showarrow=False, font=title_font)
fig.add_annotation(text="P<sub>dry</sub> change (%)", xref="paper", yref="paper",
                   x=-0.1021, y=0.2481, xanchor="center", yanchor="middle",
                   textangle=-90, showarrow=False, font=title_font)


def label(text, x, y, color, size, xref="x", yref="y"):
    fig.add_annotation(text=text, x=x, y=y, xref=xref, yref=yref, xanchor="left",
                       yanchor="middle", showarrow=False,
                       font=dict(family=LABEL_FONT, size=size, color=color, weight="bold"))


def arrow(x_tail, y_tail, x_head, y_head, color, panel="wet", head_len=32, head_angle=33, width=6.5):
    """Shaft plus an open V head, drawn as one path in data units of the chosen panel."""
    xref, yref, yrng, dom = ("x", "y", WET_RANGE, WET_DOMAIN) if panel == "wet" else \
        ("x2", "y2", DRY_RANGE, DRY_DOMAIN)
    sx = PLOT_W / (X_RANGE[1] - X_RANGE[0])                      # px per year
    sy = PLOT_H * (dom[1] - dom[0]) / (yrng[1] - yrng[0])         # px per unit
    dx, dy = (x_tail - x_head) * sx, (y_tail - y_head) * sy
    norm = math.hypot(dx, dy)
    ux, uy = dx / norm, dy / norm
    arms = []
    for sign in (1, -1):
        a = math.radians(sign * head_angle)
        rx = ux * math.cos(a) - uy * math.sin(a)
        ry = ux * math.sin(a) + uy * math.cos(a)
        arms.append((x_head + rx * head_len / sx, y_head + ry * head_len / sy))
    path = (f"M{x_tail},{y_tail} L{x_head},{y_head} "
            f"M{arms[0][0]},{arms[0][1]} L{x_head},{y_head} L{arms[1][0]},{arms[1][1]}")
    fig.add_shape(type="path", path=path, xref=xref, yref=yref, layer="above",
                  line=dict(color=color, width=width))


# dataset labels
label("GISS", 1864.0, 6.58, "#C00000", 42)
label("AMIP", 1864.0, 5.19, "#C00000", 42)
label("GPCC", 1901.6, 6.58, "#0A0AF5", 42)
label("GPCP", 1949.6, 6.58, "#FF0A0A", 42)
arrow(1872.3, 3.97, 1888.9, 1.47, "#C00000")
arrow(1911.4, 5.96, 1927.6, 3.47, "#0A0AF5")
arrow(1961.2, 5.69, 1994.9, 1.47, "#FF0A0A")

label("WETTEST 30%", 2029.0, -3.87, "#0070C0", 41)
label("DRIEST 70%", 2037.9, 6.75, "#FFC000", 41, "x2", "y2")

# CMIP5 call-out box
fig.add_shape(type="rect", xref="x2", yref="y2", x0=1930.05, x1=2010.6, y0=-13.43, y1=-10.65,
              line=dict(color="#404040", width=3.5), fillcolor="white", layer="above")
label("CMIP5 Simulations", 1932.3, -12.09, "black", 39, "x2", "y2")
arrow(2006.0, -10.43, 2022.6, -5.89, "#404040", panel="dry")

# thin rule in the lower-left corner
fig.add_shape(type="line", xref="x2", yref="y2", x0=1864.2, x1=1923.2, y0=-14.4, y1=-14.4,
              line=dict(color="#555555", width=1))

fig.write_html("out.html")
